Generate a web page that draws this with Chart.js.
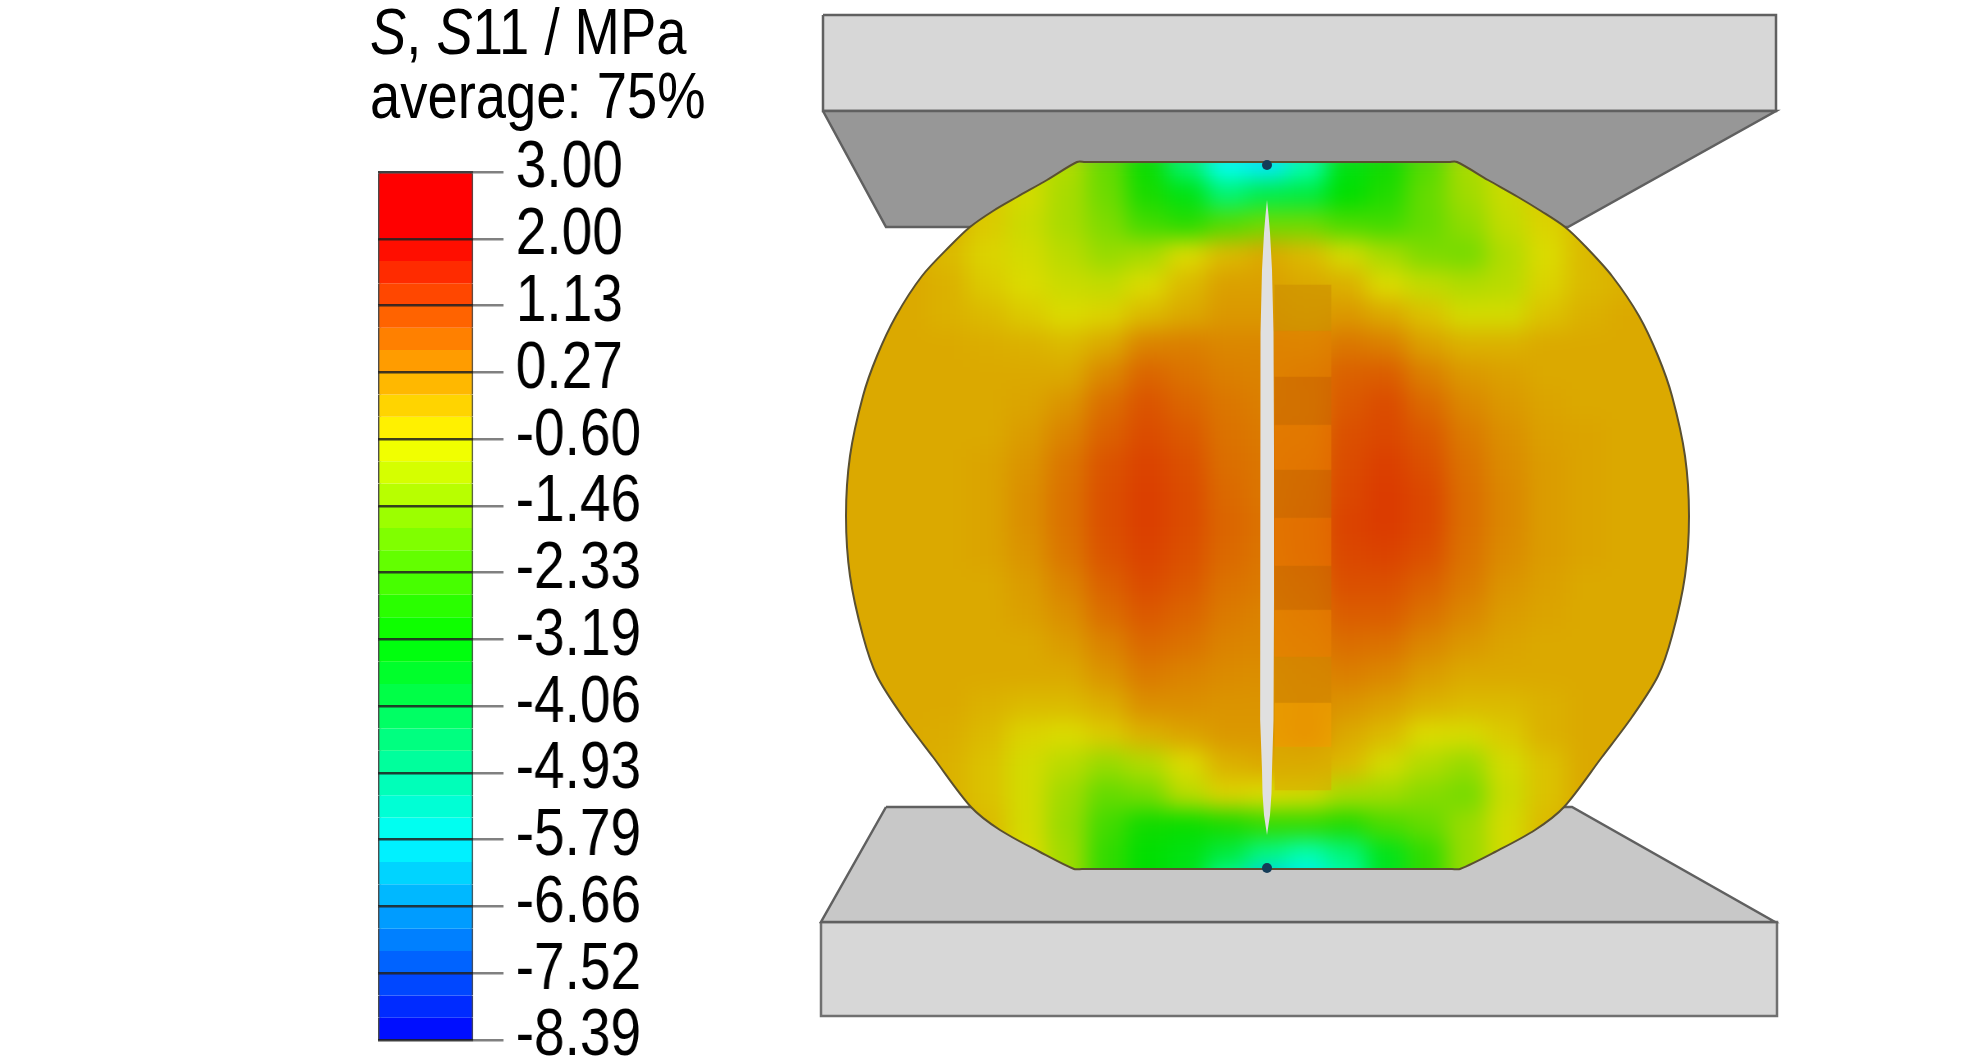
<!DOCTYPE html>
<html>
<head>
<meta charset="utf-8">
<title>S11 contour</title>
<script src="https://cdn.jsdelivr.net/npm/chart.js@4/dist/chart.umd.min.js"></script>
<style>
    html, body { margin: 0; padding: 0; background: #fff; overflow: hidden; }
    canvas { position: absolute; left: 0; top: 0; }
    /* the source figure was squeezed sideways, text included */
    #colorbar { transform: scaleX(0.82); transform-origin: 0 0; }
    #caption {
        position: absolute; left: 370px; top: 0; white-space: nowrap; color: #000;
        font: 64px/64px "Liberation Sans", sans-serif;
        transform: scaleX(0.85); transform-origin: 0 0;
    }
</style>
</head>
<body>
<canvas id="figure" width="1984" height="1063"></canvas>
<canvas id="colorbar" width="1000" height="1063"></canvas>
<div id="caption"><i>S</i>, <i>S</i>11 / MPa<br>average: 75%</div>
<script>
// Legend
const legendTicks = ['3.00', '2.00', '1.13', '0.27', '-0.60', '-1.46', '-2.33', '-3.19', '-4.06', '-4.93', '-5.79', '-6.66', '-7.52', '-8.39'];
const bandsPerInterval = 3;

// Rainbow stops (MPa -> rgb)
const colourLevels = [2, -0.6, -3.19, -5.79, -8.39];
const colourStops = [[255, 0, 0], [255, 255, 0], [0, 255, 0], [0, 255, 255], [0, 0, 255]];
const fieldShade = 0.86;

// Platens
const topFaceX = [823, 1776, 1776, 823, 823];
const topFaceY = [15, 15, 111, 111, 15];
const topSlopeX = [823, 1776, 1568, 886, 823];
const topSlopeY = [111, 111, 227, 227, 111];
const bottomSlopeX = [886, 1572, 1775, 821, 886];
const bottomSlopeY = [807, 807, 922, 922, 807];
const bottomFaceX = [821, 1777, 1777, 821, 821];
const bottomFaceY = [922, 922, 1016, 1016, 922];

// Specimen outline
const discX = [1085, 1449, 1457, 1488, 1518, 1541, 1565, 1585, 1612, 1639, 1658, 1672, 1685, 1689, 1685, 1672, 1658, 1632, 1602, 1564, 1535, 1495, 1460, 1452, 1082, 1074, 1040, 1000, 971, 933, 903, 877, 863, 850, 846, 850, 863, 877, 896, 922, 950, 970, 993, 1017, 1047, 1077, 1085];
const discY = [162, 162, 162, 180, 197, 211, 227, 246, 276, 316, 356, 396, 456, 516, 576, 636, 676, 717, 757, 807, 830, 852, 869, 869, 869, 869, 852, 830, 807, 757, 717, 676, 636, 576, 516, 456, 396, 356, 316, 276, 246, 227, 211, 197, 180, 162, 162];

// Crack along the loading axis
const crackX = [1267, 1265.5, 1264, 1262, 1260.5, 1260, 1260, 1260.5, 1262, 1262.5, 1264, 1267, 1270, 1271.5, 1272, 1273.5, 1274, 1274, 1273.5, 1272, 1270, 1268.5, 1267];
const crackY = [200, 215, 233, 270, 333, 450, 600, 720, 770, 793, 815, 835, 815, 793, 770, 720, 600, 450, 333, 270, 233, 215, 200];

// Contact points
const contactX = [1267, 1267];
const contactY = [165, 868];

// S11 in MPa, one row per fieldRows entry
const fieldColumns = [827, 867, 907, 947, 987, 1027, 1067, 1107, 1147, 1187, 1227, 1267, 1307, 1347, 1387, 1427, 1467, 1507, 1547, 1587, 1627, 1667, 1707];
const fieldRows = [165, 195, 225, 255, 285, 315, 345, 375, 405, 435, 465, 495, 525, 555, 585, 615, 645, 675, 705, 735, 765, 795, 825, 855, 885];
const fieldValues = [
    [0, 0, 0, -.2, -.4, -.8, -1.1, -2.0, -3.1, -4.4, -5.7, -6.0, -5.0, -3.4, -3.0, -2.2, -1.2, -.8, -.4, -.2, 0, 0, 0],
    [0, 0, 0, -.2, -.4, -.7, -1.2, -1.9, -2.9, -3.4, -4.4, -4.0, -3.9, -3.2, -2.8, -2.0, -1.3, -.8, -.4, -.2, 0, 0, 0],
    [0, 0, 0, -.1, -.4, -.8, -1.2, -1.7, -2.4, -2.7, -2.2, -1.9, -1.9, -2.3, -2.4, -2.0, -1.5, -.9, -.5, -.2, 0, 0, 0],
    [0, 0, 0, -.2, -.5, -.7, -1.0, -1.4, -1.2, -.6, -.2, 0, -.2, -.7, -1.2, -1.7, -1.8, -1.1, -.6, -.2, 0, 0, 0],
    [0, 0, 0, -.1, -.4, -.6, -.8, -.9, -.6, -.2, .1, .1, 0, -.1, -.6, -.9, -1.1, -1.0, -.5, -.2, -.1, 0, 0],
    [0, 0, 0, -.1, -.2, -.4, -.6, -.5, -.2, 0, .2, .2, .1, .2, 0, -.3, -.7, -.7, -.3, -.1, 0, 0, 0],
    [0, 0, 0, 0, -.05, -.1, -.2, 0, .45, .5, .4, .4, .35, .6, .5, .1, -.1, -.1, 0, 0, 0, 0, 0],
    [0, 0, 0, 0, 0, 0, 0, .4, .8, .65, .5, .45, .6, .85, .9, .5, .2, .1, 0, 0, 0, 0, 0],
    [0, 0, 0, 0, 0, .05, .25, .7, 1.0, .8, .6, .5, .55, .95, 1.1, .75, .4, .2, .05, 0, 0, 0, 0],
    [0, 0, 0, 0, 0, .15, .45, .85, 1.1, .95, .65, .55, .6, 1.05, 1.15, .95, .55, .3, .1, .05, 0, 0, 0],
    [0, 0, 0, 0, .05, .25, .6, 1.0, 1.2, 1.05, .7, .6, .7, 1.1, 1.25, 1.05, .65, .35, .15, .05, 0, 0, 0],
    [0, 0, 0, 0, .05, .3, .65, 1.05, 1.25, 1.1, .75, .6, .75, 1.15, 1.3, 1.15, .7, .4, .15, .05, 0, 0, 0],
    [0, 0, 0, 0, .05, .3, .65, 1.05, 1.25, 1.1, .8, .65, .8, 1.2, 1.3, 1.15, .7, .4, .15, .05, 0, 0, 0],
    [0, 0, 0, 0, .05, .25, .6, 1.0, 1.2, 1.05, .75, .6, .8, 1.15, 1.2, 1.05, .65, .35, .15, .05, 0, 0, 0],
    [0, 0, 0, 0, 0, .15, .45, .85, 1.1, .95, .65, .55, .7, 1.05, 1.05, .85, .55, .25, .1, 0, 0, 0, 0],
    [0, 0, 0, 0, 0, .1, .3, .7, .95, .8, .55, .45, .6, .9, .9, .65, .4, .15, .05, 0, 0, 0, 0],
    [0, 0, 0, 0, 0, 0, .15, .45, .75, .65, .45, .4, .5, .7, .65, .4, .2, .05, 0, 0, 0, 0, 0],
    [0, 0, 0, 0, 0, 0, 0, .25, .55, .45, .35, .3, .4, .5, .4, .15, 0, 0, 0, 0, 0, 0, 0],
    [0, 0, 0, 0, -.1, -.2, -.2, -.05, .3, .3, .25, .25, .35, .25, .1, -.1, -.2, -.2, -.1, 0, 0, 0, 0],
    [0, 0, 0, -.05, -.2, -.5, -.6, -.4, -.1, .05, .2, .2, .4, 0, -.2, -.6, -.65, -.4, -.1, 0, 0, 0, 0],
    [0, 0, 0, -.1, -.3, -.7, -1.0, -1.4, -1.1, -.6, -.1, 0, 0, -.2, -.7, -1.1, -1.4, -.7, -.3, 0, 0, 0, 0],
    [0, 0, 0, -.1, -.3, -.7, -1.3, -2.0, -1.8, -1.0, -.5, -.6, -.7, -1.2, -1.3, -1.6, -1.8, -.8, -.3, 0, 0, 0, 0],
    [0, 0, 0, 0, -.2, -.7, -1.4, -2.4, -3.0, -3.1, -2.9, -2.6, -2.6, -2.8, -2.3, -2.0, -1.4, -.7, -.2, 0, 0, 0, 0],
    [0, 0, 0, 0, -.2, -.6, -1.3, -2.6, -3.2, -3.4, -3.9, -4.6, -5.0, -4.5, -3.5, -2.6, -1.4, -.7, -.2, 0, 0, 0, 0],
    [0, 0, 0, 0, -.2, -.6, -1.3, -2.6, -3.2, -3.5, -5.0, -6.4, -6.0, -5.0, -3.6, -2.6, -1.4, -.7, -.2, 0, 0, 0, 0]
];

// Element blocks beside the crack
const blockColumn = 1303;
const blockEdges = [285, 331, 377, 425, 470, 518, 566, 610, 657, 703, 747, 790];
const blockValues = [.18, .5, .65, .62, .65, .65, .65, .55, .35, .27, -.05];
const blockShade = [.80, .88, .80, .90, .80, .90, .80, .90, .82, .94, .85];
const blockOpacity = 0.6;

function stressColour(value, shade, alpha = 1) {
    let i = 0;
    while (i < colourLevels.length - 2 && value < colourLevels[i + 1]) i++;
    const t = Math.min(1, Math.max(0, (colourLevels[i] - value) / (colourLevels[i] - colourLevels[i + 1])));
    const rgb = colourStops[i].map((c, n) => Math.round((c + (colourStops[i + 1][n] - c) * t) * shade));
    return `rgba(${rgb[0]}, ${rgb[1]}, ${rgb[2]}, ${alpha})`;
}

// The contact zones are lit brighter than the rest of the specimen
function cellShade(value) {
    const t = Math.min(1, Math.max(0, (-3 - value) / 2));
    return fieldShade + (1 - fieldShade) * t;
}

function points(xs, ys) {
    return xs.map((x, i) => ({ x: x, y: ys[i] }));
}

function shape(xs, ys, fillColour, lineColour, lineWidth, order) {
    return {
        type: 'scatter', data: points(xs, ys), showLine: true, fill: 'shape', tension: 0,
        backgroundColor: fillColour, borderColor: lineColour, borderWidth: lineWidth,
        pointRadius: 0, order: order
    };
}

// Colour bar, one floating bar per band
const tickValues = legendTicks.map(Number);
const bandDatasets = [{ data: [[0, 1]], backgroundColor: stressColour(2, 1) }];
for (let k = 1; k < legendTicks.length - 1; k++) {
    for (let m = 0; m < bandsPerInterval; m++) {
        const value = tickValues[k] + (tickValues[k + 1] - tickValues[k]) * (m + 0.5) / bandsPerInterval;
        bandDatasets.push({
            data: [[k + m / bandsPerInterval, k + (m + 1) / bandsPerInterval]],
            backgroundColor: stressColour(value, 1)
        });
    }
}
bandDatasets.forEach(ds => {
    ds.barPercentage = 1;
    ds.categoryPercentage = 1;
    ds.grouped = false;
    ds.inflateAmount = 1;
    ds.borderColor = '#4a4a4a';
    ds.borderWidth = { left: 2.5, right: 2.5, top: 0, bottom: 0 };
});

new Chart(document.getElementById('colorbar'), {
    type: 'bar',
    data: { labels: ['S11'], datasets: bandDatasets },
    options: {
        responsive: false,
        animation: false,
        layout: { padding: { left: 461, top: 172, bottom: 23, right: 0 } },
        plugins: { legend: { display: false }, tooltip: { enabled: false } },
        scales: {
            x: { display: false },
            y: {
                position: 'right',
                reverse: true,
                min: 0,
                max: legendTicks.length - 1,
                afterFit: scale => { scale.width = 423; scale.paddingTop = 0; scale.paddingBottom = 0; },
                border: { display: false },
                grid: { z: 1, color: 'rgba(30, 30, 30, 0.85)', lineWidth: 2.5, tickLength: 37, tickColor: '#808080', tickWidth: 2.5 },
                ticks: {
                    stepSize: 1,
                    autoSkip: false,
                    padding: 15,
                    labelOffset: -3,
                    color: '#000',
                    font: { family: '"Liberation Sans"', size: 67 },
                    callback: value => legendTicks[value]
                }
            }
        }
    }
});

// Paints the stress cells into one layer, blurs it and clips it to the specimen
const contourPlugin = {
    id: 'contour',
    beforeDatasetDraw(chart, args) {
        if (chart.data.datasets[args.index].label !== 'S11') return;
        const xs = chart.scales.x;
        const ys = chart.scales.y;
        const cellW = Math.abs(xs.getPixelForValue(fieldColumns[1]) - xs.getPixelForValue(fieldColumns[0])) + 1;
        const cellH = Math.abs(ys.getPixelForValue(fieldRows[1]) - ys.getPixelForValue(fieldRows[0])) + 1;
        const layer = document.createElement('canvas');
        layer.width = chart.canvas.width;
        layer.height = chart.canvas.height;
        const lctx = layer.getContext('2d');
        args.meta.data.forEach((el, i) => {
            const v = chart.data.datasets[args.index].data[i].v;
            lctx.fillStyle = stressColour(v, cellShade(v));
            lctx.fillRect(el.x - cellW / 2, el.y - cellH / 2, cellW, cellH);
        });

        const outline = chart.getDatasetMeta(chart.data.datasets.findIndex(d => d.label === 'outline')).dataset;
        outline.updateControlPoints(chart.chartArea, 'x');
        const ctx = chart.ctx;
        ctx.save();
        ctx.beginPath();
        outline.path(ctx);
        ctx.clip();
        ctx.filter = 'blur(11px)';
        ctx.drawImage(layer, 0, 0);
        ctx.restore();
        return false;
    }
};

const fieldCells = [];
fieldRows.forEach((y, r) => {
    fieldColumns.forEach((x, c) => fieldCells.push({ x: x, y: y, v: fieldValues[r][c] }));
});

const blocks = blockValues.map((v, i) => ({ x: blockColumn, y: [blockEdges[i], blockEdges[i + 1]] }));

new Chart(document.getElementById('figure'), {
    type: 'scatter',
    data: {
        datasets: [
            {
                type: 'scatter', label: 'contact', data: points(contactX, contactY),
                pointRadius: 5, pointBackgroundColor: '#143c58', pointBorderWidth: 0, order: 1
            },
            shape(crackX, crackY, '#e0e0e0', 'rgba(0, 0, 0, 0)', 0, 2),
            Object.assign(shape(discX, discY, 'rgba(0, 0, 0, 0)', '#5a5030', 2, 3), { label: 'outline', fill: false, tension: 0.3 }),
            {
                type: 'bar', label: 'blocks', data: blocks, barThickness: 56, grouped: false,
                backgroundColor: blockValues.map((v, i) => stressColour(v, blockShade[i], blockOpacity)), order: 4
            },
            {
                type: 'scatter', label: 'S11', data: fieldCells, pointRadius: 0, order: 5
            },
            shape(bottomSlopeX, bottomSlopeY, '#c8c8c8', '#606060', 2.5, 6),
            shape(bottomFaceX, bottomFaceY, '#d7d7d7', '#707070', 2.5, 7),
            shape(topSlopeX, topSlopeY, '#979797', '#606060', 2.5, 8),
            shape(topFaceX, topFaceY, '#d7d7d7', '#606060', 2.5, 9)
        ]
    },
    options: {
        responsive: false,
        animation: false,
        layout: { padding: 0, autoPadding: false },
        plugins: { legend: { display: false }, tooltip: { enabled: false } },
        scales: {
            x: { type: 'linear', min: 0, max: 1984, offset: false, display: false },
            y: { type: 'linear', min: 0, max: 1063, reverse: true, display: false }
        }
    },
    plugins: [contourPlugin]
});
</script>
</body>
</html>
